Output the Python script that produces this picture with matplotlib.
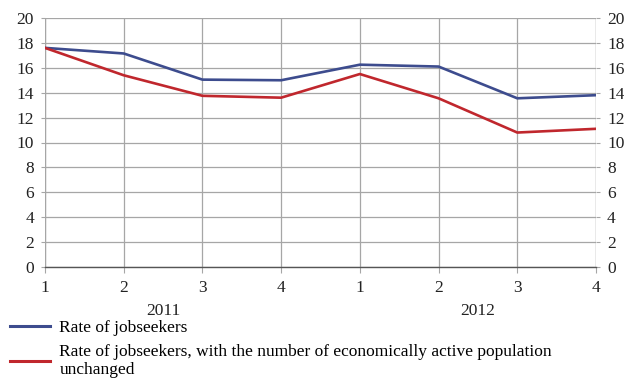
import matplotlib
matplotlib.use("Agg")
import matplotlib.pyplot as plt
from matplotlib.lines import Line2D

quarters = ["1", "2", "3", "4", "1", "2", "3", "4"]
years = ["2011", "2012"]
rate_jobseekers = [17.6, 17.15, 15.05, 15.0, 16.25, 16.1, 13.55, 13.8]
rate_constant_pop = [17.6, 15.4, 13.75, 13.6, 15.5, 13.55, 10.8, 11.1]
yticks = list(range(0, 21, 2))

plt.rcParams["font.family"] = ["Liberation Serif", "DejaVu Serif"]
FS = 12.5

fig = plt.figure(figsize=(6.24, 3.80), dpi=100)
ax = fig.add_axes([45 / 624, 1 - 267 / 380, (596 - 45) / 624, (267 - 18) / 380])

x = list(range(len(quarters)))
blue = "#3d4c8e"
red = "#c0272d"
ax.plot(x, rate_jobseekers, color=blue, lw=1.9, zorder=3)
ax.plot(x, rate_constant_pop, color=red, lw=1.9, zorder=3)

ax.set_xlim(0, len(quarters) - 1)
ax.set_ylim(0, 20)
ax.set_yticks(yticks)
ax.set_xticks(x)
ax.set_xticklabels(quarters)

grid_c = "#a6a6a6"
ax.grid(True, color=grid_c, lw=0.9)
for s in ["top", "left", "right"]:
    ax.spines[s].set_visible(False)
ax.spines["bottom"].set_color("#555555")
ax.spines["bottom"].set_linewidth(1.0)
ax.axvline(0, color=grid_c, lw=0.9)
ax.axvline(len(quarters) - 1, color=grid_c, lw=0.9)

ax.tick_params(axis="y", which="both", left=True, right=True, labelleft=True,
               labelright=True, length=3, color=grid_c, labelsize=FS, pad=5,
               labelcolor="#222222")
ax.tick_params(axis="x", length=4, color=grid_c, labelsize=FS, pad=5,
               labelcolor="#222222")

# year labels centred under each group of quarters
for i, yr in enumerate(years):
    ax.text(1.5 + 4 * i, -3.5, yr, ha="center", va="center", fontsize=FS,
            color="#222222", transform=ax.transData)

handles = [Line2D([], [], color=blue, lw=2.2), Line2D([], [], color=red, lw=2.2)]
labels = ["Rate of jobseekers",
          "Rate of jobseekers, with the number of economically active population\nunchanged"]
fig.legend(handles, labels, loc="upper left", bbox_to_anchor=(0.016, 0.158),
           frameon=False, fontsize=FS, handlelength=2.3, handletextpad=0.55,
           labelspacing=0.45, borderaxespad=0, borderpad=0)

fig.savefig("out.png", dpi=100)
